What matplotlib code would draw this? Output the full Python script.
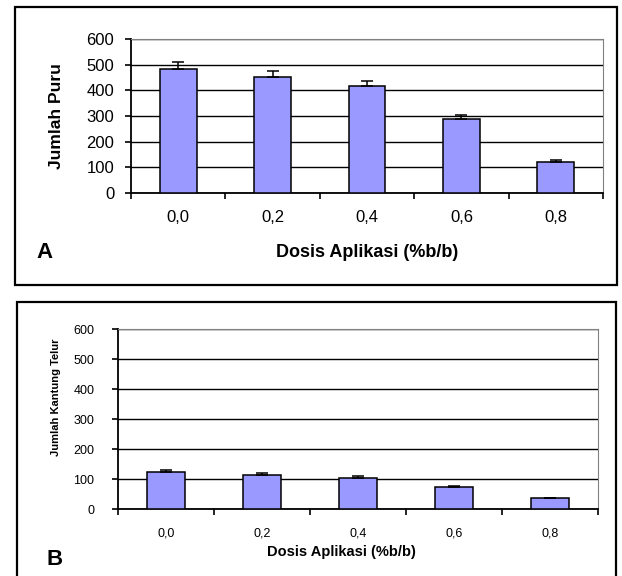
import matplotlib
matplotlib.use("Agg")
import matplotlib.pyplot as plt
from matplotlib.patches import Rectangle
import numpy as np

plt.rcParams['font.family'] = ['Liberation Sans', 'DejaVu Sans']

dosis = ['0,0', '0,2', '0,4', '0,6', '0,8']
puru = [483, 453, 416, 288, 122]
puru_err = [26, 24, 19, 17, 7]
telur = [124, 114, 104, 74, 36]
telur_err = [6, 5, 5, 2, 2]

bar_col = '#9999FF'
x = np.arange(len(dosis))

fig = plt.figure(figsize=(6.22, 5.76), dpi=100)

# kotak luar tiap panel
fig.patches.append(Rectangle((0.024, 0.505), 0.968, 0.483, transform=fig.transFigure,
                             fill=False, edgecolor='black', linewidth=1.6))
fig.patches.append(Rectangle((0.027, -0.02), 0.963, 0.496, transform=fig.transFigure,
                             fill=False, edgecolor='black', linewidth=1.6))


def panel(ax, y, err, tick_size, ypad, xpad):
    ax.bar(x, y, width=0.39, color=bar_col, edgecolor='black', linewidth=1.1, zorder=3)
    ax.errorbar(x, y, yerr=[[0] * len(err), err], fmt='none', ecolor='black',
                elinewidth=1.1, capsize=4.5, capthick=1.1, zorder=4)
    ax.set_ylim(0, 600)
    ax.set_xlim(-0.5, len(dosis) - 0.5)
    ax.set_yticks(range(0, 601, 100))
    ax.yaxis.grid(True, color='black', linewidth=1)
    ax.set_axisbelow(True)
    ax.set_xticks(x)
    ax.set_xticklabels(dosis, fontsize=tick_size)
    ax.tick_params(axis='x', which='major', length=0, pad=xpad)
    ax.set_xticks(np.arange(-0.5, len(dosis), 1), minor=True)
    ax.tick_params(axis='x', which='minor', length=4, width=1.2, direction='out')
    ax.tick_params(axis='y', labelsize=tick_size, length=4, width=1.2,
                   direction='out', pad=ypad)
    for s in ['top', 'right']:
        ax.spines[s].set_color('#808080')
    for s in ['left', 'bottom']:
        ax.spines[s].set_color('black')
        ax.spines[s].set_linewidth(1.3)


axA = fig.add_axes([0.2106, 0.6649, 0.759, 0.2674])
panel(axA, puru, puru_err, 12, 8, 12)
axA.set_ylabel('Jumlah Puru', fontsize=12.5, fontweight='bold')
axA.yaxis.set_label_coords(-0.142, 0.5)
axA.set_xlabel('Dosis Aplikasi (%b/b)', fontsize=13, fontweight='bold')
axA.xaxis.set_label_coords(0.5, -0.33)

axB = fig.add_axes([0.1897, 0.1163, 0.7717, 0.3125])
panel(axB, telur, telur_err, 9, 13, 13)
axB.set_ylabel('Jumlah Kantung Telur', fontsize=8, fontweight='bold')
axB.yaxis.set_label_coords(-0.118, 0.62)
axB.set_xlabel('Dosis Aplikasi (%b/b)', fontsize=10.5, fontweight='bold')
axB.xaxis.set_label_coords(0.465, -0.2)

fig.text(0.072, 0.5625, 'A', fontsize=16, fontweight='bold', ha='center', va='center')
fig.text(0.087, 0.0278, 'B', fontsize=16, fontweight='bold', ha='center', va='center')

fig.savefig('out.png', dpi=100)
